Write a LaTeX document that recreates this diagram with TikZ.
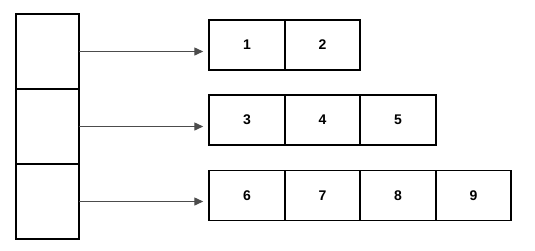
\documentclass[tikz,border=0pt]{standalone}
\usepackage{fontspec}
\setmainfont{Liberation Sans}
\usetikzlibrary{arrows.meta}
\tikzset{
  slot/.style={draw, line width=1.6pt, minimum width=63.5pt, minimum height=75pt, inner sep=0pt, outer sep=0pt},
  cell/.style={draw, line width=1.6pt, minimum width=75.5pt, minimum height=50pt, inner sep=0pt, outer sep=0pt, font=\fontsize{14pt}{16pt}\selectfont\bfseries},
  link/.style={draw=black!70, line width=1.4pt, -{Triangle[length=9pt,width=8pt]}, shorten >=6pt}
}
\begin{document}
\begin{tikzpicture}[x=1pt,y=-1pt]
\useasboundingbox (0,0) rectangle (535,250);
% Index column
\node[slot] (s1) at (47.5,51.5) {};
\node[slot] (s2) at (47.5,126.5) {};
\node[slot] (s3) at (47.5,201.5) {};
% First row
\node[cell] (c1) at (247,45) {1};
\node[cell] (c2) at (322.5,45) {2};
% Second row
\node[cell] (c3) at (247,120) {3};
\node[cell] (c4) at (322.5,120) {4};
\node[cell] (c5) at (398,120) {5};
% Third row
\node[cell] (c6) at (247,195.5) {6};
\node[cell] (c7) at (322.5,195.5) {7};
\node[cell] (c8) at (398,195.5) {8};
\node[cell] (c9) at (473.5,195.5) {9};
% Pointers
\draw[link] (s1.east) -- (s1.east -| c1.west);
\draw[link] (s2.east) -- (s2.east -| c3.west);
\draw[link] (s3.east) -- (s3.east -| c6.west);
\end{tikzpicture}
\end{document}
